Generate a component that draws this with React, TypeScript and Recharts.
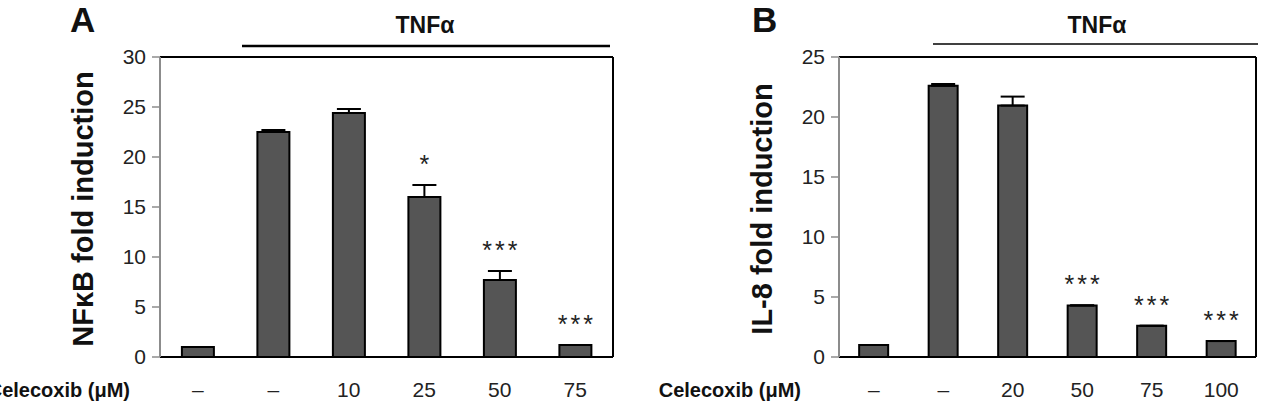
import React from 'react'
import { BarChart, Bar, XAxis, YAxis, ErrorBar, LabelList, CartesianGrid } from 'recharts'

const FONT = '"Liberation Sans", Arial, Helvetica, sans-serif'

// A: NF-kB reporter activity
const doseA = ['–', '–', '10', '25', '50', '75']
const nfkb = [1.0, 22.5, 24.4, 16.0, 7.7, 1.2]
const nfkbErr = [0, 0.2, 0.4, 1.2, 0.9, 0]
const nfkbSig = ['', '', '', '*', '***', '***']
const ticksA = [0, 5, 10, 15, 20, 25, 30]

// B: IL-8 promoter activity
const doseB = ['–', '–', '20', '50', '75', '100']
const il8 = [1.0, 22.6, 20.95, 4.3, 2.6, 1.33]
const il8Err = [0, 0.15, 0.75, 0, 0, 0]
const il8Sig = ['', '', '', '***', '***', '***']
const ticksB = [0, 5, 10, 15, 20, 25]

type PanelProps = {
  dose: string[]
  values: number[]
  errs: number[]
  sig: string[]
  ticks: number[]
  yLabel: string
  left: number
  width: number
  marginLeft: number
  marginRight: number
  xLabelGap: number
}

function Panel({ dose, values, errs, sig, ticks, yLabel, left, width, marginLeft, marginRight, xLabelGap }: PanelProps) {
  const rows = dose.map((d, i) => ({ dose: d, value: values[i], err: [0, errs[i]], sig: sig[i] }))

  // significance stars sit above the error bar (or bar top)
  const renderSig = (props: any) => {
    const vb = props.viewBox ?? props
    const idx = props.index
    const label = props.value
    if (!label) return null
    const pxPerUnit = vb.height / values[idx]
    const top = vb.y - errs[idx] * pxPerUnit
    return (
      <text x={vb.x + vb.width / 2 + 1.5} y={top - 12} textAnchor="middle" fontSize={25} fontFamily={FONT} fill="#222" letterSpacing={3}>
        {label}
      </text>
    )
  }

  return (
    <div style={{ position: 'absolute', left, top: 0 }}>
      <BarChart
        width={width}
        height={420}
        data={rows}
        margin={{ top: 57, right: marginRight, bottom: 23, left: marginLeft }}
        barCategoryGap="29%"
      >
        {/* top and right frame lines */}
        <CartesianGrid
          stroke="#000"
          strokeWidth={2}
          horizontalCoordinatesGenerator={({ offset }: any) => [offset.top]}
          verticalCoordinatesGenerator={({ offset }: any) => [offset.left + offset.width]}
        />
        <XAxis
          dataKey="dose"
          height={40}
          interval={0}
          tickSize={0}
          tickMargin={25}
          axisLine={{ stroke: '#000', strokeWidth: 2 }}
          tick={{ fill: '#222', fontSize: 21, fontFamily: FONT }}
          label={(p: any) => (
            <text x={p.viewBox.x - xLabelGap} y={p.viewBox.y + 40} textAnchor="end" fontSize={20} fontWeight="bold" fontFamily={FONT} fill="#111">
              Celecoxib (μM)
            </text>
          )}
        />
        <YAxis
          width={60}
          domain={[0, ticks[ticks.length - 1]]}
          ticks={ticks}
          interval={0}
          tickSize={8}
          tickMargin={6}
          axisLine={{ stroke: '#8c8c8c', strokeWidth: 2 }}
          tickLine={{ stroke: '#8c8c8c', strokeWidth: 1.5 }}
          tick={{ fill: '#222', fontSize: 21, fontFamily: FONT }}
          label={(p: any) => {
            const x = p.viewBox.x - 7
            const y = p.viewBox.y + p.viewBox.height / 2 + 2
            return (
              <text x={x} y={y} transform={`rotate(-90, ${x}, ${y})`} textAnchor="middle" fontSize={29} fontWeight="bold" fontFamily={FONT} fill="#111">
                {yLabel}
              </text>
            )
          }}
        />
        <Bar dataKey="value" fill="#555555" stroke="#000" strokeWidth={2} isAnimationActive={false}>
          <ErrorBar dataKey="err" direction="y" width={12} stroke="#000" strokeWidth={2} isAnimationActive={false} />
          <LabelList dataKey="sig" content={renderSig} />
        </Bar>
      </BarChart>
    </div>
  )
}

export default function App() {
  return (
    <div style={{ position: 'absolute', left: 0, top: 0, width: 1264, height: 420, background: '#fff', overflow: 'hidden' }}>
      <Panel
        dose={doseA}
        values={nfkb}
        errs={nfkbErr}
        sig={nfkbSig}
        ticks={ticksA}
        yLabel="NFκB fold induction"
        left={0}
        width={640}
        marginLeft={100}
        marginRight={27}
        xLabelGap={30}
      />
      <Panel
        dose={doseB}
        values={il8}
        errs={il8Err}
        sig={il8Sig}
        ticks={ticksB}
        yLabel="IL-8 fold induction"
        left={640}
        width={624}
        marginLeft={139}
        marginRight={8}
        xLabelGap={38}
      />
      {/* panel letters and TNFα treatment brackets */}
      <svg width={1264} height={420} style={{ position: 'absolute', left: 0, top: 0, pointerEvents: 'none' }}>
        <text x={70} y={32} fontSize={35} fontWeight="bold" fontFamily={FONT} fill="#111">A</text>
        <text x={752} y={32} fontSize={35} fontWeight="bold" fontFamily={FONT} fill="#111">B</text>
        <text x={425} y={33} textAnchor="middle" fontSize={23} fontWeight="bold" fontFamily={FONT} fill="#111">TNFα</text>
        <line x1={242} x2={610} y1={46} y2={46} stroke="#000" strokeWidth={2.5} />
        <text x={1097} y={33} textAnchor="middle" fontSize={23} fontWeight="bold" fontFamily={FONT} fill="#111">TNFα</text>
        <line x1={933} x2={1258} y1={44} y2={44} stroke="#000" strokeWidth={1.5} />
      </svg>
    </div>
  )
}
